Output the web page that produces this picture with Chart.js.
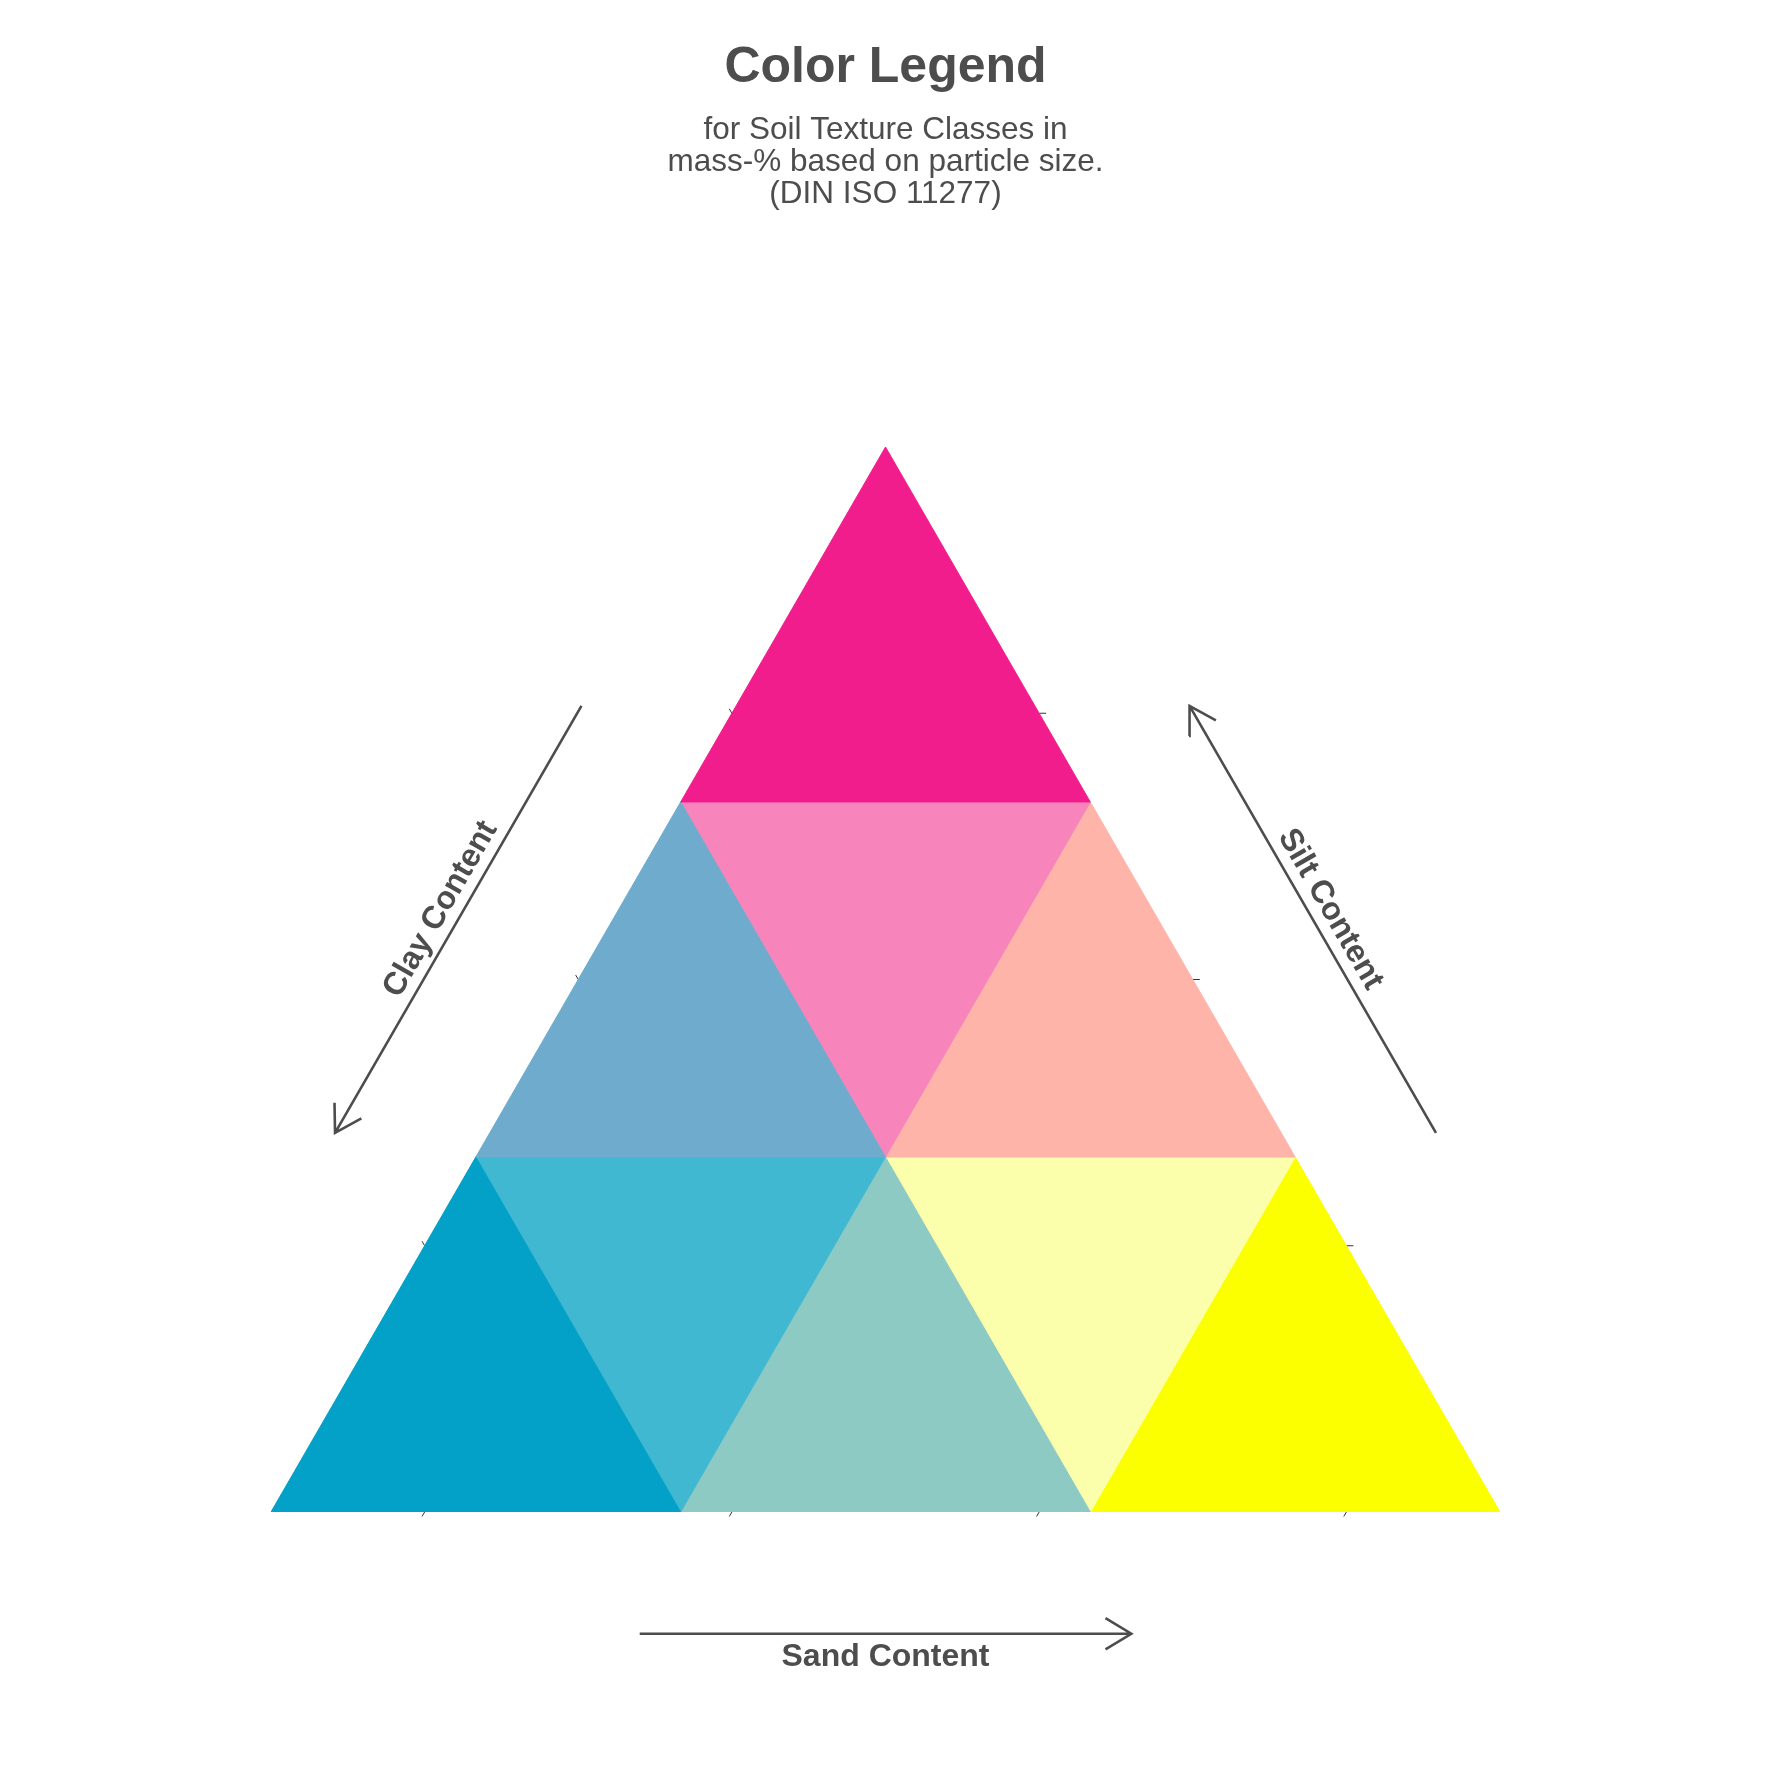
<!DOCTYPE html>
<html>
<head>
<meta charset="utf-8">
<title>Color Legend</title>
<script src="https://cdn.jsdelivr.net/npm/chart.js@4.4.1/dist/chart.umd.min.js"></script>
<style>
  html, body { margin: 0; padding: 0; background: #fff; }
  #wrap { width: 1771px; height: 1771px; }
</style>
</head>
<body>
<div id="wrap"><canvas id="chart"></canvas></div>
<script>
// Colour legend for soil texture classes: ternary triangle split in 9 cells.

const H = Math.sqrt(3) / 2;

// class cells, corners given as sand % / silt % (clay is the rest)
const cellColors = ["#F21D8D", "#6FABCD", "#F784BA", "#FFB4AA",
                    "#03A1C7", "#40B8D2", "#8DCAC4", "#FBFFAB", "#FBFF00"];
const cellSand = [
  [0, 0, 33.33],
  [0, 33.33, 0], [0, 33.33, 33.33], [33.33, 66.67, 33.33],
  [0, 33.33, 0], [0, 33.33, 33.33], [33.33, 66.67, 33.33], [33.33, 66.67, 66.67], [66.67, 100, 66.67]
];
const cellSilt = [
  [100, 66.67, 66.67],
  [33.33, 33.33, 66.67], [66.67, 66.67, 33.33], [33.33, 33.33, 66.67],
  [0, 0, 33.33], [33.33, 33.33, 0], [0, 0, 33.33], [33.33, 33.33, 0], [0, 0, 33.33]
];

// tick marks (% along each side)
const baseTicks = [12.5, 37.5, 62.5, 87.5];
const sideTicks = [25, 50, 75];

// axis titles and arrow extent (fraction along side)
const axisTitles = ["Sand Content", "Clay Content", "Silt Content"];
const arrowFrom = [0.30, 0.306, 0.293];
const arrowTo = [0.70, 0.707, 0.694];

const TXT = "#4D4D4D";
const FONT = "'Liberation Sans', Arial, Helvetica, sans-serif";

function tern(sand, silt) { return { x: sand + silt / 2, y: silt * H }; }

// sides: start corner -> end corner, outward normal, text rotation, arrow and label offset
const SIDES = [
  { a: tern(0, 0), b: tern(100, 0), n: { x: 0, y: -1 }, rot: 0, off: 9.9, lab: 1.9 },
  { a: tern(0, 100), b: tern(0, 0), n: { x: -H, y: 0.5 }, rot: -Math.PI / 3, off: 10.9, lab: 1.65 },
  { a: tern(100, 0), b: tern(0, 100), n: { x: H, y: 0.5 }, rot: Math.PI / 3, off: 10.9, lab: 1.65 }
];

function along(s, t, d) {
  return {
    x: s.a.x + (s.b.x - s.a.x) * t + s.n.x * d,
    y: s.a.y + (s.b.y - s.a.y) * t + s.n.y * d
  };
}

const GAP = { x: 0, y: null };

const datasets = [];

cellColors.forEach((c, i) => {
  const pts = cellSand[i].map((s, k) => tern(s, cellSilt[i][k]));
  pts.push(pts[0]);
  datasets.push({
    data: pts, fill: "shape", backgroundColor: c, borderColor: c,
    borderWidth: 1, pointRadius: 0
  });
});

// ticks
const tickPts = [];
const tickLen = 0.42;
baseTicks.forEach(f => {
  const p = along(SIDES[0], f / 100, 0);
  tickPts.push(p, { x: p.x - 0.5 * tickLen, y: p.y - H * tickLen }, GAP);
});
sideTicks.forEach(f => {
  const p = along(SIDES[1], f / 100, 0);
  tickPts.push(p, { x: p.x - 0.5 * tickLen, y: p.y + H * tickLen }, GAP);
  const q = along(SIDES[2], 1 - f / 100, 0);
  tickPts.push(q, { x: q.x + 0.57, y: q.y }, GAP);
});
datasets.push({
  data: tickPts, borderColor: "#333", borderWidth: 1, pointRadius: 0,
  fill: false, clip: false, spanGaps: false
});

// arrows along the sides
const headLen = 2.45, headAng = 31 * Math.PI / 180;
SIDES.forEach((s, i) => {
  const tail = along(s, arrowFrom[i], s.off);
  const tip = along(s, arrowTo[i], s.off);
  const ux = (s.b.x - s.a.x) / 100, uy = (s.b.y - s.a.y) / 100;
  const bx = tip.x - ux * headLen * Math.cos(headAng);
  const by = tip.y - uy * headLen * Math.cos(headAng);
  const px = -uy * headLen * Math.sin(headAng), py = ux * headLen * Math.sin(headAng);
  datasets.push({
    data: [tail, tip, GAP, { x: bx + px, y: by + py }, tip, { x: bx - px, y: by - py }],
    borderColor: TXT, borderWidth: 2.6, borderJoinStyle: "miter", borderCapStyle: "butt",
    pointRadius: 0, fill: false, clip: false, spanGaps: false
  });
});

const axisLabels = {
  id: "axisLabels",
  afterDatasetsDraw(chart) {
    const { ctx, scales: { x, y } } = chart;
    ctx.save();
    ctx.fillStyle = TXT;
    ctx.font = `bold 32px ${FONT}`;
    ctx.textAlign = "center";
    ctx.textBaseline = "middle";
    SIDES.forEach((s, i) => {
      const t = (arrowFrom[i] + arrowTo[i]) / 2;
      const p = along(s, t, s.off + s.lab);
      ctx.save();
      ctx.translate(x.getPixelForValue(p.x), y.getPixelForValue(p.y));
      ctx.rotate(s.rot);
      ctx.fillText(axisTitles[i], 0, 0);
      ctx.restore();
    });
    ctx.restore();
  }
};

new Chart(document.getElementById("chart"), {
  type: "line",
  data: { datasets },
  options: {
    responsive: true, maintainAspectRatio: false, animation: false,
    layout: { padding: { top: 0, left: 271, right: 271, bottom: 259 } },
    elements: { line: { tension: 0 }, point: { radius: 0 } },
    scales: {
      x: { type: "linear", min: 0, max: 100, display: false },
      y: { type: "linear", min: 0, max: 100 * H, display: false }
    },
    plugins: {
      legend: { display: false },
      tooltip: { enabled: false },
      title: {
        display: true, text: "Color Legend", color: TXT,
        font: { family: FONT, size: 50, weight: "bold", lineHeight: 1.2 },
        padding: { top: 38.2, bottom: 16.1 }
      },
      subtitle: {
        display: true,
        text: ["for Soil Texture Classes in", "mass-% based on particle size.", "(DIN ISO 11277)"],
        color: TXT,
        font: { family: FONT, size: 31.5, weight: "normal", lineHeight: "32px" },
        padding: { top: 0, bottom: 236.7 }
      }
    }
  },
  plugins: [axisLabels]
});
</script>
</body>
</html>
